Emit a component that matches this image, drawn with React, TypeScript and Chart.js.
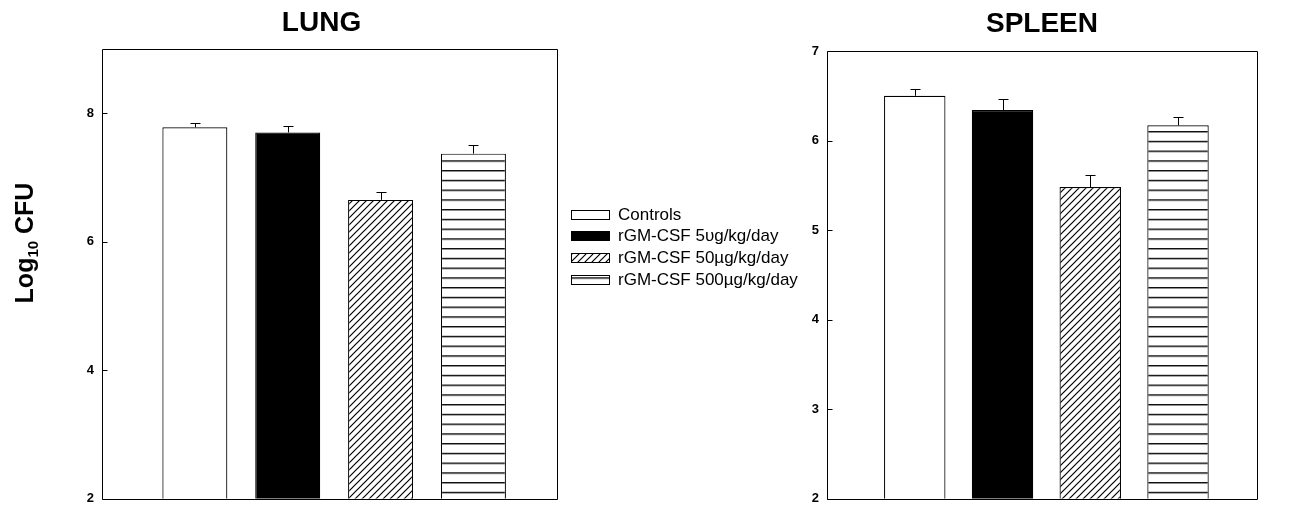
import React, { useEffect, useRef } from 'react';
import { Chart, registerables } from 'chart.js';

Chart.register(...registerables);

const FONT = '"Liberation Sans", Arial, Helvetica, sans-serif';

// Treatment groups (one bar each, placed at slots 1..4 on a hidden linear axis)
const treatments = ['Controls', 'rGM-CSF 5υg/kg/day', 'rGM-CSF 50µg/kg/day', 'rGM-CSF 500µg/kg/day'];
const barSlots = [1, 2, 3, 4];
const slotRange = [0, 4.9];

// Lung burden, log10 CFU (mean and upper error)
const lungLog10Cfu = [7.78, 7.7, 6.65, 7.37];
const lungError = [0.06, 0.1, 0.13, 0.13];
const lungTickValues = [2, 4, 6, 8];
const lungAxisRange = [2, 9];

// Spleen burden, log10 CFU (mean and upper error)
const spleenLog10Cfu = [6.5, 6.34, 5.48, 6.17];
const spleenError = [0.075, 0.12, 0.14, 0.09];
const spleenTickValues = [2, 3, 4, 5, 6, 7];
const spleenAxisRange = [2, 7];

type PanelSpec = {
  title: string;
  means: number[];
  errors: number[];
  ticks: number[];
  range: number[];
  padding: { left: number; right: number; top: number; bottom: number };
  yWidth: number;
  titleFullSize: boolean;
  titlePadding: { top: number; bottom: number };
  withLegend: boolean;
  withAxisTitle: boolean;
};

function makeFills(ctx: CanvasRenderingContext2D): (string | CanvasPattern)[] {
  // diagonal "////" hatch
  const diag = document.createElement('canvas');
  diag.width = 7;
  diag.height = 7;
  const d = diag.getContext('2d')!;
  d.fillStyle = '#fff';
  d.fillRect(0, 0, 7, 7);
  d.strokeStyle = '#000';
  d.lineWidth = 1.2;
  d.beginPath();
  d.moveTo(-1, 8);
  d.lineTo(8, -1);
  d.moveTo(-1, 1);
  d.lineTo(1, -1);
  d.moveTo(6, 8);
  d.lineTo(8, 6);
  d.stroke();

  // horizontal stripes
  const horiz = document.createElement('canvas');
  horiz.width = 10;
  horiz.height = 10;
  const h = horiz.getContext('2d')!;
  h.fillStyle = '#fff';
  h.fillRect(0, 0, 10, 10);
  h.fillStyle = '#000';
  h.fillRect(0, 0, 10, 1.4);

  const diagPattern = ctx.createPattern(diag, 'repeat')!;
  const horizPattern = ctx.createPattern(horiz, 'repeat')!;
  horizPattern.setTransform(new DOMMatrix([1, 0, 0, 0.975, 0, 4.3]));
  return ['#ffffff', '#000000', diagPattern, horizPattern];
}

// Box round the plot area plus short inward tick marks on the value axis
const framePlugin = {
  id: 'frame',
  afterDatasetsDraw(chart: any) {
    const { ctx, chartArea: a } = chart;
    const y = chart.scales.y;
    ctx.save();
    ctx.strokeStyle = '#000';
    ctx.lineWidth = 1;
    const l = Math.round(a.left) + 0.5;
    const t = Math.round(a.top) + 0.5;
    const r = Math.round(a.right) + 0.5;
    const b = Math.round(a.bottom) + 0.5;
    ctx.beginPath();
    ctx.rect(l, t, r - l, b - t);
    y.ticks.forEach((tk: any) => {
      const py = Math.round(y.getPixelForValue(tk.value)) + 0.5;
      ctx.moveTo(l, py);
      ctx.lineTo(l + 5, py);
    });
    ctx.stroke();
    ctx.restore();
  },
};

function errorBarPlugin(errors: number[]) {
  return {
    id: 'errorBars',
    afterDatasetsDraw(chart: any) {
      const { ctx } = chart;
      const y = chart.scales.y;
      ctx.save();
      ctx.strokeStyle = '#000';
      ctx.lineWidth = 1;
      ctx.beginPath();
      chart.data.datasets.forEach((ds: any, i: number) => {
        const bar = chart.getDatasetMeta(i).data[0];
        const v = ds.data[0].y;
        const top = Math.round(y.getPixelForValue(v + errors[i])) + 0.5;
        const x = Math.round(bar.x) + 0.5;
        ctx.moveTo(x, bar.y);
        ctx.lineTo(x, top);
        ctx.moveTo(x - 5, top);
        ctx.lineTo(x + 5, top);
      });
      ctx.stroke();
      ctx.restore();
    },
  };
}

// Treatment key drawn to the right of the lung panel
const sideLegendPlugin = {
  id: 'sideLegend',
  afterDraw(chart: any) {
    const { ctx, chartArea: a } = chart;
    const left = Math.round(a.right) + 14;
    const firstRow = 214;
    const step = 21.7;
    ctx.save();
    ctx.font = `17px ${FONT}`;
    ctx.textBaseline = 'middle';
    ctx.textAlign = 'left';
    chart.data.datasets.forEach((ds: any, i: number) => {
      const cy = firstRow + i * step;
      const top = Math.round(cy - 4.5) + 0.5;
      ctx.fillStyle = ds.backgroundColor;
      ctx.fillRect(left + 0.5, top, 38, 9);
      ctx.strokeStyle = '#000';
      ctx.lineWidth = 1;
      ctx.strokeRect(left + 0.5, top, 38, 9);
      ctx.fillStyle = '#000';
      ctx.fillText(ds.label, left + 47, cy + 1);
    });
    ctx.restore();
  },
};

// Rotated "Log10 CFU" with a subscript base
const yTitlePlugin = {
  id: 'yTitle',
  afterDraw(chart: any) {
    const { ctx } = chart;
    ctx.save();
    ctx.translate(33, 243);
    ctx.rotate(-Math.PI / 2);
    const big = `bold 25px ${FONT}`;
    const small = `bold 15px ${FONT}`;
    ctx.font = big;
    const w1 = ctx.measureText('Log').width;
    const w3 = ctx.measureText(' CFU').width;
    ctx.font = small;
    const w2 = ctx.measureText('10').width;
    let x = -(w1 + w2 + w3) / 2;
    ctx.fillStyle = '#000';
    ctx.textBaseline = 'alphabetic';
    ctx.textAlign = 'left';
    ctx.font = big;
    ctx.fillText('Log', x, 0);
    x += w1;
    ctx.font = small;
    ctx.fillText('10', x, 5);
    x += w2;
    ctx.font = big;
    ctx.fillText(' CFU', x, 0);
    ctx.restore();
  },
};

function makePanel(canvas: HTMLCanvasElement, spec: PanelSpec) {
  const ctx = canvas.getContext('2d')!;
  const fills = makeFills(ctx);
  const datasets = treatments.map((label, i) => ({
    label,
    data: [{ x: barSlots[i], y: spec.means[i] }],
    backgroundColor: fills[i] as any,
    borderColor: '#000',
    borderWidth: 1.2,
    grouped: false,
    categoryPercentage: 0.7,
    barPercentage: 1,
  }));
  const plugins: any[] = [framePlugin, errorBarPlugin(spec.errors)];
  if (spec.withLegend) plugins.push(sideLegendPlugin);
  if (spec.withAxisTitle) plugins.push(yTitlePlugin);

  return new Chart(canvas, {
    type: 'bar',
    data: { datasets },
    plugins,
    options: {
      responsive: false,
      animation: false,
      events: [],
      layout: { padding: spec.padding },
      scales: {
        x: {
          type: 'linear',
          min: slotRange[0],
          max: slotRange[1],
          offset: false,
          display: false,
          // one tick per bar slot so the bar width follows the slot spacing
          afterBuildTicks: (s: any) => {
            s.ticks = barSlots.map((v) => ({ value: v }));
          },
        },
        y: {
          type: 'linear',
          min: spec.range[0],
          max: spec.range[1],
          afterBuildTicks: (s: any) => {
            s.ticks = spec.ticks.map((v) => ({ value: v }));
          },
          afterFit: (s: any) => {
            s.width = spec.yWidth;
          },
          grid: { display: false, drawTicks: false },
          border: { display: false },
          ticks: {
            padding: 8,
            color: '#000',
            font: { family: FONT, weight: 'bold', size: 13, lineHeight: 1 },
          },
        },
      },
      plugins: {
        legend: { display: false },
        tooltip: { enabled: false },
        title: {
          display: true,
          text: spec.title,
          color: '#000',
          fullSize: spec.titleFullSize,
          padding: spec.titlePadding,
          font: { family: FONT, weight: 'bold', size: 28, lineHeight: 1.2 },
        },
      },
    } as any,
  });
}

const lungSpec: PanelSpec = {
  title: 'LUNG',
  means: lungLog10Cfu,
  errors: lungError,
  ticks: lungTickValues,
  range: lungAxisRange,
  padding: { left: 86, right: 737, top: 0, bottom: 9 },
  yWidth: 16,
  titleFullSize: true,
  titlePadding: { top: 6, bottom: 9.4 },
  withLegend: true,
  withAxisTitle: true,
};

const spleenSpec: PanelSpec = {
  title: 'SPLEEN',
  means: spleenLog10Cfu,
  errors: spleenError,
  ticks: spleenTickValues,
  range: spleenAxisRange,
  padding: { left: 800, right: 37, top: 0, bottom: 7 },
  yWidth: 27,
  titleFullSize: false,
  titlePadding: { top: 7, bottom: 10.4 },
  withLegend: false,
  withAxisTitle: false,
};

export default function App() {
  const lungRef = useRef<HTMLCanvasElement>(null);
  const spleenRef = useRef<HTMLCanvasElement>(null);

  useEffect(() => {
    const charts = [makePanel(lungRef.current!, lungSpec), makePanel(spleenRef.current!, spleenSpec)];
    return () => charts.forEach((c) => c.destroy());
  }, []);

  const layer: React.CSSProperties = { position: 'absolute', left: 0, top: 0, width: 1294, height: 513 };
  return (
    <div style={{ ...layer, background: '#fff' }}>
      <canvas ref={lungRef} width={1294} height={513} style={layer} />
      <canvas ref={spleenRef} width={1294} height={513} style={layer} />
    </div>
  );
}
